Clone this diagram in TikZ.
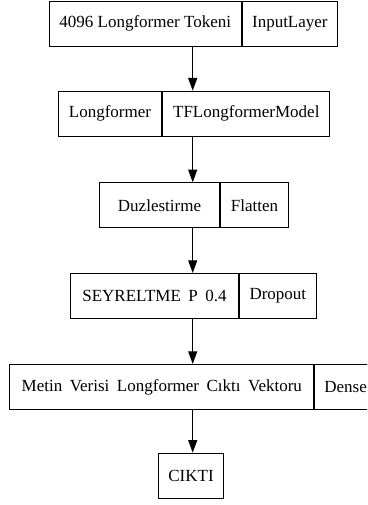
\documentclass[tikz,border=0pt]{standalone}
\usepackage{fontspec}
\setmainfont{Liberation Serif}
\usetikzlibrary{arrows.meta}
% wide word gap used in the longer layer names
\newcommand{\wgap}{\hspace{7.5pt}}
\begin{document}
\begin{tikzpicture}[x=1pt,y=-1pt,
  cell/.style={draw, line width=1pt, rectangle, inner sep=0pt,
    minimum height=45pt, anchor=north west,
    font=\fontsize{17}{20}\selectfont},
  arr/.style={line width=1pt, -{Triangle[length=12.7pt,width=9pt]}}]
\useasboundingbox (0,0) rectangle (367,505);
\clip (0,0) rectangle (367,505);
% layer boxes: name cell followed by layer type cell
\node[cell, minimum width=192pt] (in1) at (48.7,0.8) {4096 Longformer Tokeni};
\node[cell, minimum width=95.3pt] (in2) at (in1.north east) {InputLayer};
\node[cell, minimum width=103.6pt] (lf1) at (57.7,90.7) {Longformer};
\node[cell, minimum width=167pt] (lf2) at (lf1.north east) {TFLongformerModel};
\node[cell, minimum width=120.6pt] (fl1) at (98.7,182.3) {Duzlestirme\hspace{18pt}};
\node[cell, minimum width=67.4pt] (fl2) at (fl1.north east) {Flatten};
\node[cell, minimum width=167.4pt] (dr1) at (70.3,273) {SEYRELTME\wgap P\wgap 0.4};
\node[cell, minimum width=77.3pt] (dr2) at (dr1.north east) {Dropout};
\node[cell, minimum width=304pt] (de1) at (9.3,364) {Metin\wgap Verisi\wgap Longformer\wgap Cıktı\wgap Vektoru};
\node[cell, minimum width=61.7pt] (de2) at (de1.north east) {Dense};
\node[cell, minimum width=64.4pt] (out) at (158.3,452.7) {CIKTI};
% connectors
\coordinate (ax) at (192.7,0);
\draw[arr] (ax |- in1.south) -- (ax |- lf1.north);
\draw[arr] (ax |- lf1.south) -- (ax |- fl1.north);
\draw[arr] (ax |- fl1.south) -- (ax |- dr1.north);
\draw[arr] (ax |- dr1.south) -- (ax |- de1.north);
\draw[arr] (ax |- de1.south) -- (ax |- out.north);
\end{tikzpicture}
\end{document}
